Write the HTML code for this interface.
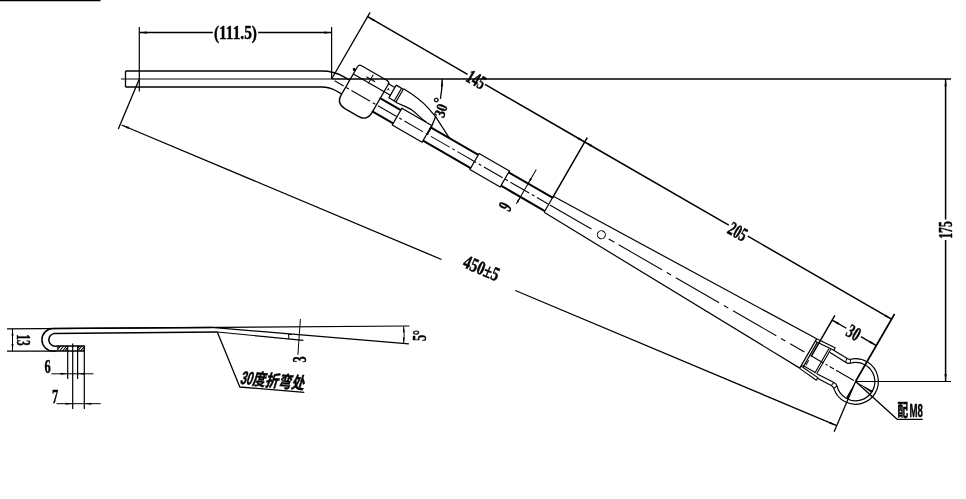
<!DOCTYPE html>
<html lang="zh"><head><meta charset="utf-8"><title>drawing</title>
<style>html,body{margin:0;padding:0;background:#fff}svg{display:block;will-change:transform}text{font-family:"Liberation Serif","Noto Serif CJK SC",serif;font-weight:bold;fill:#000;stroke:#000;stroke-width:0.45px;stroke-linejoin:round}.cj{font-family:"Liberation Sans","Noto Sans CJK SC",sans-serif;font-weight:bold}</style></head><body>
<svg width="966" height="499" viewBox="0 0 966 499">
<rect width="966" height="499" fill="#fff"/>
<g fill="none" stroke="#000" stroke-width="1.3" stroke-linecap="butt" stroke-linejoin="round">
<path d="M0,0.4H100.5" stroke-width="1.6"/>
<path d="M125.5,71H322A44,44 0 0 1 344,76.89L349.46,80.07" stroke-width="1.3"/>
<path d="M125.5,87H322A28,28 0 0 1 336,90.75L341.46,93.93" stroke-width="1.3"/>
<path d="M125.5,71V87" stroke-width="1.3"/>
<path d="M121,79H331.6" stroke-width="1"/>
<path d="M331.6,79H951" stroke-width="1.7"/>
<path d="M139.3,27V91.5M331.6,27V79" stroke-width="1.2"/>
<path d="M139.3,32.6H212.8M258.1,32.6H331.6" stroke-width="1.5"/>
<path d="M139.3,79L118.3,129"/>
<path d="M121.6,125L441.6,259.5M515.3,290.5L836.7,425.6"/>
<path d="M855.6,381.5L834.1,431.7"/>
<path d="M945.6,79V219.6M945.6,240V381.5" stroke-width="1.5"/>
<path d="M855.6,381.5H951" stroke-width="1.2"/>
<path d="M855.6,381.5L897.4,419.4H922.7"/>
<path d="M442.2,79A110.6,110.6 0 0 1 440.42,98.78M435.86,115.92A110.6,110.6 0 0 1 427.38,134.3"/>
</g>
<g transform="translate(331.6,79.0) rotate(30)" fill="none" stroke="#000" stroke-width="1.3" stroke-linejoin="round">
<path d="M0,0V-77"/>
<path d="M250.7,-7V-77" stroke-width="1.5"/>
<path d="M605,0V-78" stroke-width="1.7"/>
<path d="M554,0.4V-47" stroke-width="1.5"/>
<path d="M0,-72H115.4M135.6,-72H250.7H417M439,-72H605" stroke-width="1.5"/>
<path d="M554,-41.5H570.4M587.2,-41.5H605" stroke-width="1.4"/>
<path d="M3.5,0H13.9M16.9,0H19.9M22.9,0H44.5M47.5,0H50.5M53.5,0H75.1M78.1,0H81.1M84.1,0H105.7M108.7,0H111.7M114.7,0H136.3M139.3,0H142.3M145.3,0H166.9M169.9,0H172.9M175.9,0H197.5M200.5,0H203.5M206.5,0H228.1M231.1,0H234.1M237.1,0H250M252,0H300M320,0H326.5M331.5,0H381.5M387,0H392M397.5,0H447.5M453,0H458M463.5,0H513.5M519,0H524M529.5,0H546M553,0H568M570.3,0H572.6M575,0H580M582.5,0H603" stroke-width="1"/>
<path d="M16.3,-23.5Q16.3,-26.5 19.3,-26.5H48.8Q51.8,-26.5 51.8,-23.5V9Q51.8,19 41.8,19H26.3Q16.3,19 16.3,9Z" stroke-width="1.3"/>
<path d="M16.3,-15.3H59" stroke-width="1.2"/>
<path d="M29,-19.4H39M34,-24.4V-14.4" stroke-width="1"/>
<circle cx="14.8" cy="-19.6" r="1.5" fill="#000" stroke="none"/>
<path d="M51,-24.3H59" stroke-width="1.2"/>
<path d="M54,-20.6V-18M54,-19.3H55.6" stroke-width="0.8"/>
<path d="M59,-27H67.2V-12.3H59Z M65.2,-27V-12.3" stroke-width="1.2"/>
<path d="M67.2,-27.6C80,-27.3 90,-26 98,-23.2L109.1,-19.2L131.6,-7.7" stroke-width="1.2"/>
<path d="M67.2,-12C74,-12.3 80,-13.6 85,-13.3C92,-12.6 96,-10.5 103.5,-10" stroke-width="1.2"/>
<path d="M51,-7.7H75.5M51,7.7H75.5M110,-7.7H165M110,7.7H165M200,-7.7H250.7M200,7.7H250.7" stroke-width="2"/>
<path d="M75.5,-9.8H110V9.5H75.5Z M165,-9.2H200V9.2H165Z" stroke-width="1.3"/>
<path d="M222.5,-24V16" stroke-width="1"/>
<path d="M250.7,-9.3L550,-17.5M250.7,9.2L550,16.3M250.7,-9.3V9.2" stroke-width="1.2"/>
<circle cx="311.5" cy="0" r="4" stroke-width="1"/>
<path d="M550,-17.5V16.6M552.3,-15V13.6" stroke-width="1.2"/>
<path d="M550,-17.5L570.4,-19.1L570.7,-16.3L550,-14.6" stroke-width="1.1"/>
<path d="M550,16.6L570.4,18.5V15.5L550,13.8" stroke-width="1.1"/>
<path d="M551,12.4H565.6M565.5,-15.3V13.2M567.5,-15.5V13" stroke-width="1.1"/>
<path d="M553.8,5V10.8" stroke-width="1"/>
<path d="M570.4,-16.2L585.4,-15.8Q588,-15.4 589.6,-16.8A22.8,22.8 0 1 1 589.6,16.8Q588,15.4 585.4,15.6L570.3,16.2" stroke-width="1.2"/>
<path d="M568,-12.3L586.3,-11.8Q589.5,-11.5 591.1,-13.1A19.2,19.2 0 1 1 591.1,13.1Q589.5,11.5 586.3,11.7L568,12.6" stroke-width="1.2"/>
<path d="M586,-15.7L586.6,-11.8M589.5,-16.8L591.2,-13.2M586,15.6L586.6,11.7M589.5,16.8L591.2,13.2" stroke-width="1"/>
</g>
<g fill="#000" stroke="none">
<polygon points="139.3,32.6 146.8,31.5 146.8,33.7"/>
<polygon points="331.6,32.6 324.1,33.7 324.1,31.5"/>
<polygon points="945.6,79 946.7,86.5 944.5,86.5"/>
<polygon points="945.6,381.5 944.5,374 946.7,374"/>
<polygon points="121.9,125.1 129.24,126.99 128.39,129.02"/>
<polygon points="836.7,425.6 829.36,423.71 830.21,421.68"/>
<polygon points="442.2,79 443.04,86.53 440.84,86.46"/>
<polygon points="427.38,134.3 429.93,127.16 431.87,128.19"/>
<polygon points="855.6,381.5 873.2,391.2 871.7,393.1"/>
<polygon points="855.6,381.5 848,398.4 846.2,397.5"/>
</g>
<g transform="translate(331.6,79.0) rotate(30)" fill="#000" stroke="none">
<polygon points="0,-72 7.5,-73.1 7.5,-70.9"/>
<polygon points="250.7,-72 243.2,-70.9 243.2,-73.1"/>
<polygon points="250.7,-72 258.2,-73.1 258.2,-70.9"/>
<polygon points="605,-72 597.5,-70.9 597.5,-73.1"/>
<polygon points="554,-41.5 561.5,-42.6 561.5,-40.4"/>
<polygon points="605,-41.5 597.5,-40.4 597.5,-42.6"/>
<polygon points="222.5,-7.7 221.5,-13.7 223.5,-13.7"/>
<polygon points="222.5,7.7 223.5,13.7 221.5,13.7"/>
</g>
<g fill="none" stroke="#000" stroke-width="1.3" stroke-linejoin="round">
<path d="M7,328.8L409.5,326" stroke-width="1.2"/>
<path d="M7,351.1H56" stroke-width="1.2"/>
<path d="M12.5,328.8V351.1" stroke-width="1"/>
<path d="M211.5,327.4L53.1,328.6A11.2,11.2 0 0 0 53.1,351H84.3V346H57A6.2,6.2 0 0 1 53.5,333.6L217.3,332" stroke-width="1.5"/>
<path d="M211.5,327.4L408.9,343.8M217.3,332L303.4,340.3" stroke-width="1.2"/>
<path d="M67.7,346V379M77.6,346V379M72.7,343.5V409M84.3,346V409" stroke-width="1.2"/>
<path d="M51.4,373.8H93.5M56.6,403.7H100.7" stroke-width="1"/>
<path d="M56.6,351l4,-5M59.6,351l4,-5M62.6,351l4,-5M65.2,350.6l2.5,-3.2M57,348.5l2,-2.5M77.8,351l4,-5M80.6,351l3.6,-4.5M78,348.2l1.8,-2.2" stroke-width="1.1"/>
<path d="M300.4,319L297.9,354.7M288.5,334.3L288.9,339.2M288.5,334.3L291.5,334.6" stroke-width="1"/>
<path d="M403.7,326.4Q404.6,334.5 403.7,343" stroke-width="1"/>
<path d="M217.3,332L239.8,387L304.3,392.4"/>
</g>
<g fill="#000" stroke="none">
<polygon points="12.5,328.8 13.5,335.8 11.5,335.8"/>
<polygon points="12.5,351.1 11.5,344.1 13.5,344.1"/>
<polygon points="67.7,373.8 60.7,374.8 60.7,372.8"/>
<polygon points="77.6,373.8 84.6,372.8 84.6,374.8"/>
<polygon points="72.7,403.7 65.7,404.7 65.7,402.7"/>
<polygon points="84.3,403.7 91.3,402.7 91.3,404.7"/>
<polygon points="403.7,326.2 404.6,332.2 402.8,332.2"/>
<polygon points="403.7,343.4 402.8,337.4 404.6,337.4"/>
</g>
<text transform="translate(235.4,32.4) rotate(0)" x="-21.5" y="6.62" font-size="19.6" textLength="43" lengthAdjust="spacingAndGlyphs">(111.5)</text>
<text transform="translate(476.29,79.4) rotate(30)" x="-9.5" y="6.62" font-size="19.6" textLength="19" lengthAdjust="spacingAndGlyphs">145</text>
<text transform="translate(737.76,231.51) rotate(30)" x="-9.5" y="6.62" font-size="19.6" textLength="19" lengthAdjust="spacingAndGlyphs">205</text>
<text transform="translate(853.78,332.56) rotate(30)" x="-6.5" y="6.62" font-size="19.6" textLength="13" lengthAdjust="spacingAndGlyphs">30</text>
<text transform="translate(481.5,268) rotate(22.8)" x="-18.75" y="6.62" font-size="19.6" textLength="37.5" lengthAdjust="spacingAndGlyphs">450±5</text>
<text transform="translate(945.3,230) rotate(-90)" x="-8.8" y="6.62" font-size="19.6" textLength="17.6" lengthAdjust="spacingAndGlyphs">175</text>
<text transform="translate(505.13,206.44) rotate(-60)" x="-3.1" y="6.62" font-size="19.6" textLength="6.2" lengthAdjust="spacingAndGlyphs">9</text>
<text transform="translate(440.7,110.6) rotate(-72)"><tspan x="-6.6" y="5.24" font-size="15.5" textLength="13.2" lengthAdjust="spacingAndGlyphs">30</tspan><tspan x="5.85" y="0.17" font-size="15" textLength="5.5" lengthAdjust="spacingAndGlyphs">°</tspan></text>
<text transform="translate(24,340) rotate(90)" x="-5.75" y="6.62" font-size="19.6" textLength="11.5" lengthAdjust="spacingAndGlyphs">13</text>
<text transform="translate(47.5,366.4) rotate(0)" x="-3.1" y="6.62" font-size="19.6" textLength="6.2" lengthAdjust="spacingAndGlyphs">6</text>
<text transform="translate(55.2,396.2) rotate(0)" x="-3.1" y="6.62" font-size="19.6" textLength="6.2" lengthAdjust="spacingAndGlyphs">7</text>
<text transform="translate(299.3,359.4) rotate(-90)" x="-3.1" y="6.62" font-size="19.6" textLength="6.2" lengthAdjust="spacingAndGlyphs">3</text>
<text transform="translate(419.2,335.5) rotate(-90)" x="-5.5" y="6.62" font-size="19.6" textLength="11" lengthAdjust="spacingAndGlyphs">5°</text>
<text class="cj" transform="translate(273,381) rotate(4.8) skewX(-12)"><tspan x="-32.04" y="5.61" font-size="18.5" textLength="12.4" lengthAdjust="spacingAndGlyphs">30</tspan><tspan x="-19.58" y="5.54" font-size="16.5" textLength="52" lengthAdjust="spacingAndGlyphs">度折弯处</tspan></text>
<text class="cj" transform="translate(0,0) rotate(0)"><tspan x="897.6" y="415.95" font-size="17" textLength="10.6" lengthAdjust="spacingAndGlyphs">配</tspan><tspan x="909.5" y="417.42" font-size="18.1" textLength="13.4" lengthAdjust="spacingAndGlyphs">M8</tspan></text>
</svg></body></html>
